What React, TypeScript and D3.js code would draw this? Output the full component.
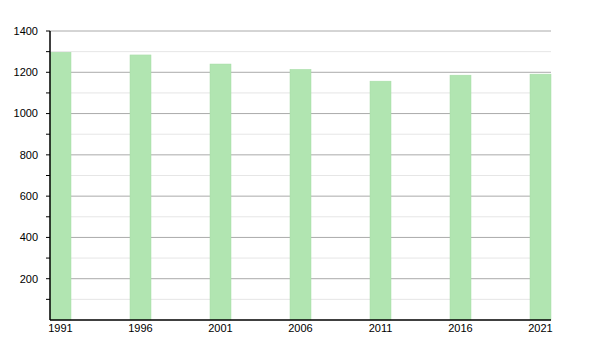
import React from "react";
import * as d3 from "d3";

const years = ["1991", "1996", "2001", "2006", "2011", "2016", "2021"];
const population = [1297, 1284, 1240, 1214, 1157, 1186, 1191];
const yTicks = [200, 400, 600, 800, 1000, 1200, 1400];
const minorTicks = [100, 300, 500, 700, 900, 1100, 1300];

export default function App() {
  const width = 600;
  const height = 350;
  const left = 50;
  const right = 551;
  const top = 31;
  const bottom = 320;

  const x = d3.scaleBand().domain(years).range([left, left + 80 * 7]).paddingInner(0).paddingOuter(0);
  const barW = 21;
  const y = d3.scaleLinear().domain([0, 1400]).range([bottom, top]);

  return (
    <svg width={width} height={height} style={{ position: "absolute", left: 0, top: 0 }}
      fontFamily="'Liberation Sans', Arial, sans-serif" fontSize={11}>
      <rect width={width} height={height} fill="#fff" />
      {minorTicks.map((t) => (
        <line key={"m" + t} x1={left} x2={right} y1={y(t)} y2={y(t)} stroke="#e6e6e6" strokeWidth={1} />
      ))}
      {yTicks.map((t) => (
        <line key={"g" + t} x1={left} x2={right} y1={y(t)} y2={y(t)} stroke="#aaaaaa" strokeWidth={1} />
      ))}
      {years.map((yr, i) => (
        <rect key={yr} x={x(yr)!} y={y(population[i])} width={barW} height={bottom - y(population[i])}
          fill="#b1e5b1" stroke="#a6dca6" strokeWidth={0.5} />
      ))}
      <line x1={left} x2={left} y1={top} y2={bottom} stroke="#000" strokeWidth={1.5} />
      <line x1={left} x2={right} y1={bottom} y2={bottom} stroke="#000" strokeWidth={1.5} />
      {[...yTicks, ...minorTicks].map((t) => (
        <line key={"t" + t} x1={left - 4} x2={left} y1={y(t)} y2={y(t)} stroke="#000" strokeWidth={1} />
      ))}
      {yTicks.map((t) => (
        <text key={"l" + t} x={38} y={y(t)} dy="0.35em" textAnchor="end" fill="#000">{t}</text>
      ))}
      {years.map((yr) => (
        <text key={"x" + yr} x={x(yr)! + barW / 2} y={bottom + 12} textAnchor="middle" fill="#000">{yr}</text>
      ))}
    </svg>
  );
}
